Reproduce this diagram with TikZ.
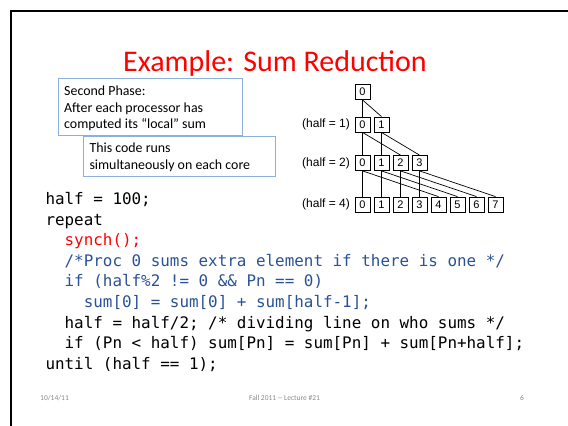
\documentclass[tikz,border=0pt]{standalone}
\usepackage{fontspec}
\setmainfont{Carlito}
\newfontfamily\codefont{DejaVu Sans Mono}
\newfontfamily\treefont{Liberation Sans}
\usetikzlibrary{positioning}

\definecolor{titlered}{RGB}{255,0,0}
\definecolor{codeblue}{RGB}{41,82,150}
\definecolor{noteblue}{RGB}{140,175,220}
\definecolor{footgray}{RGB}{137,137,137}

\begin{document}
\begin{tikzpicture}[x=1pt,y=-1pt,
  cell/.style={draw,line width=0.8pt,minimum size=15pt,inner sep=0pt,
    font=\treefont\fontsize{11}{13}\selectfont},
  lvl/.style={anchor=east,inner sep=0pt,font=\treefont\fontsize{12}{14}\selectfont},
  notebox/.style={draw=noteblue,line width=0.8pt,fill=white,anchor=north west,inner sep=0pt},
  notetext/.style={anchor=base west,inner sep=0pt,align=left,
    font=\fontsize{13.9}{16.3}\selectfont},
  foot/.style={inner sep=0pt,text=footgray,font=\fontsize{7.5}{9}\selectfont},
  link/.style={line width=0.7pt}]

\newcommand\cellx{362.5}
\newcommand\cellp{19}

\useasboundingbox (0,0) rectangle (568,426);

%% slide frame
\draw[line width=2pt] (11,426) -- (11,11) -- (568,11);

\node[anchor=base,inner sep=0pt,text=titlered,font=\fontsize{30}{36}\selectfont]
  (title) at (275,71.7) {Example: Sum Reduction};

%% callouts (text nodes sit on the baseline of their last line)
\node[notebox,minimum width=183.4pt,minimum height=56.7pt] (phase) at (58.3,78.3) {};
\node[notetext] (phasetxt) at (64,128.3)
  {Second Phase:\\After each processor has\\computed its “local” sum};

\node[notebox,minimum width=191.7pt,minimum height=40.3pt] (core) at (83.3,135.7) {};
\node[notetext] (coretxt) at (89.3,169) {This code runs\\simultaneously on each core};

%% reduction tree
\node[cell] (c00) at (\cellx,92) {0};
\foreach \i in {0,1}
  \node[cell] (c1\i) at (\cellx+\cellp*\i,124.5) {\i};
\foreach \i in {0,...,3}
  \node[cell] (c2\i) at (\cellx+\cellp*\i,163) {\i};
\foreach \i in {0,...,7}
  \node[cell] (c4\i) at (\cellx+\cellp*\i,204.5) {\i};

\draw[link] (c00.south) -- (c10.north);
\draw[link] (c00.south) -- (c11.north);
\foreach \i [evaluate=\i as \j using int(\i+2)] in {0,1} {
  \draw[link] (c1\i.south) -- (c2\i.north);
  \draw[link] (c1\i.south) -- (c2\j.north);
}
\foreach \i [evaluate=\i as \j using int(\i+4)] in {0,...,3} {
  \draw[link] (c2\i.south) -- (c4\i.north);
  \draw[link] (c2\i.south) -- (c4\j.north);
}

\node[lvl] (h1) at ([xshift=-4.5pt]c10.west) {(half = 1)};
\node[lvl] (h2) at ([xshift=-4.5pt]c20.west) {(half = 2)};
\node[lvl] (h4) at ([xshift=-4.5pt]c40.west) {(half = 4)};

%% code
\node[anchor=base west,inner sep=0pt,align=left,
  font=\codefont\fontsize{15.9}{20.6}\selectfont] (code) at (45.3,369.3)
  {half = 100;\\
   repeat\\
   \phantom{xx}\textcolor{titlered}{synch();}\\
   \phantom{xx}\textcolor{codeblue}{/*Proc 0 sums extra element if there is one */}\\
   \phantom{xx}\textcolor{codeblue}{if (half\%2 != 0 \&\& Pn == 0)}\\
   \phantom{xxxx}\textcolor{codeblue}{sum[0] = sum[0] + sum[half-1];}\\
   \phantom{xx}half = half/2; /* dividing line on who sums */\\
   \phantom{xx}if (Pn < half) sum[Pn] = sum[Pn] + sum[Pn+half];\\
   until (half == 1);};

%% footer
\node[foot,anchor=base west] (date) at (40,400) {10/14/11};
\node[foot,anchor=base] (course) at (284.5,400) {Fall 2011 -{}- Lecture \#21};
\node[foot,anchor=base east] (page) at (524,400) {6};

\end{tikzpicture}
\end{document}
